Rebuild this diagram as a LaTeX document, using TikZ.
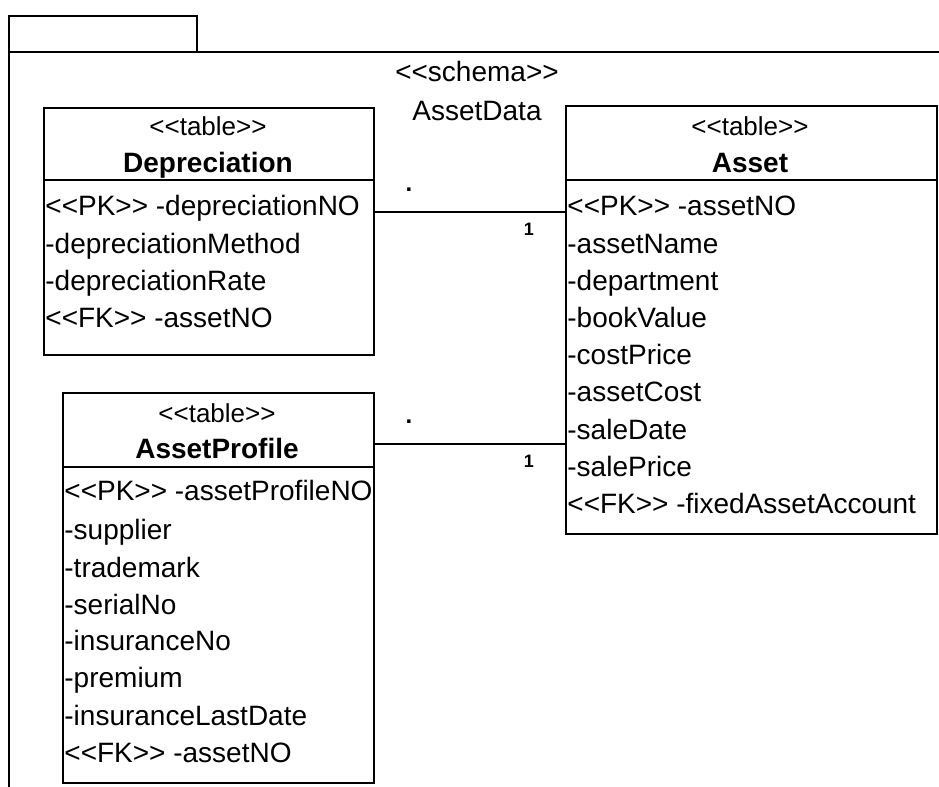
\documentclass[tikz,border=0pt]{standalone}
\usepackage{fontspec}
\setmainfont{Liberation Sans}[Ligatures=TeXOff]
\usepackage{tikz}
\usetikzlibrary{positioning}

\begin{document}
\begin{tikzpicture}[
        x=0.5pt, y=-0.5pt,
        frame/.style={line width=0.9pt},
        tablebox/.style={draw, line width=0.9pt, anchor=north west, inner sep=0pt},
        row/.style={text height=12pt, text depth=2pt},
        stereo/.style={row, font=\fontsize{13}{15}\selectfont},
        tname/.style={row, font=\fontsize{14}{16}\selectfont\bfseries},
        attr/.style={row, anchor=west, inner sep=1pt, font=\fontsize{14}{16}\selectfont},
        label/.style={row, font=\fontsize{14}{16}\selectfont},
        assoc/.style={line width=0.9pt},
        dotmark/.style={font=\fontsize{12}{14}\selectfont\bfseries, inner sep=0pt},
        mult/.style={font=\fontsize{9}{11}\selectfont\bfseries, inner sep=0pt}
    ]
        \useasboundingbox (0,0) rectangle (939,787);

        % package frame
        \draw[frame] (9,787) -- (9,16) -- (197,16) -- (197,52);
        \draw[frame] (9,52) -- (939,52);
        \node[label] (schema) at (477,72) {<<schema>>};
        \node[label] (schemaname) at (477,110) {AssetData};

        % Depreciation
        \node[tablebox, minimum width=165pt, minimum height=123.5pt] (depreciation) at (43,107) {};
        \draw[frame] (43,180) -- (373,180);
        \node[stereo] (deprstereo) at (208,125) {<<table>>};
        \node[tname] (deprname) at (208,162) {Depreciation};
        \node[attr] (depr1) at (43,205) {<<PK>> -depreciationNO};
        \node[attr] (depr2) at (43,243) {-depreciationMethod};
        \node[attr] (depr3) at (43,280) {-depreciationRate};
        \node[attr] (depr4) at (43,317) {<<FK>> -assetNO};

        % Asset
        \node[tablebox, minimum width=185.5pt, minimum height=214pt] (asset) at (565,105) {};
        \draw[frame] (565,180) -- (936,180);
        \node[stereo] (assetstereo) at (750,125) {<<table>>};
        \node[tname] (assetname) at (750,162) {Asset};
        \node[attr] (asset1) at (565,205) {<<PK>> -assetNO};
        \node[attr] (asset2) at (565,243) {-assetName};
        \node[attr] (asset3) at (565,280) {-department};
        \node[attr] (asset4) at (565,317) {-bookValue};
        \node[attr] (asset5) at (565,354) {-costPrice};
        \node[attr] (asset6) at (565,391) {-assetCost};
        \node[attr] (asset7) at (565,429) {-saleDate};
        \node[attr] (asset8) at (565,466) {-salePrice};
        \node[attr] (asset9) at (565,503) {<<FK>> -fixedAssetAccount};

        % AssetProfile
        \node[tablebox, minimum width=155.5pt, minimum height=195pt] (profile) at (62,392) {};
        \draw[frame] (62,467) -- (373,467);
        \node[stereo] (profilestereo) at (217,412) {<<table>>};
        \node[tname] (profilename) at (217,448) {AssetProfile};
        \node[attr] (profile1) at (62,490) {<<PK>> -assetProfileNO};
        \node[attr] (profile2) at (62,529) {-supplier};
        \node[attr] (profile3) at (62,567) {-trademark};
        \node[attr] (profile4) at (62,604) {-serialNo};
        \node[attr] (profile5) at (62,640) {-insuranceNo};
        \node[attr] (profile6) at (62,677) {-premium};
        \node[attr] (profile7) at (62,715) {-insuranceLastDate};
        \node[attr] (profile8) at (62,752) {<<FK>> -assetNO};

        % associations
        \coordinate (deprlink) at ([yshift=-52.5pt]depreciation.north east);
        \coordinate (profilelink) at ([yshift=-26pt]profile.north east);
        \draw[assoc] (deprlink) -- node[dotmark, pos=0.18, yshift=11pt] (deprmany) {.}
            node[mult, pos=0.81, yshift=-8.5pt] (deprone) {1} (deprlink -| asset.west);
        \draw[assoc] (profilelink) -- node[dotmark, pos=0.18, yshift=11pt] (profilemany) {.}
            node[mult, pos=0.81, yshift=-8.5pt] (profileone) {1} (profilelink -| asset.west);
    \end{tikzpicture}
\end{document}
